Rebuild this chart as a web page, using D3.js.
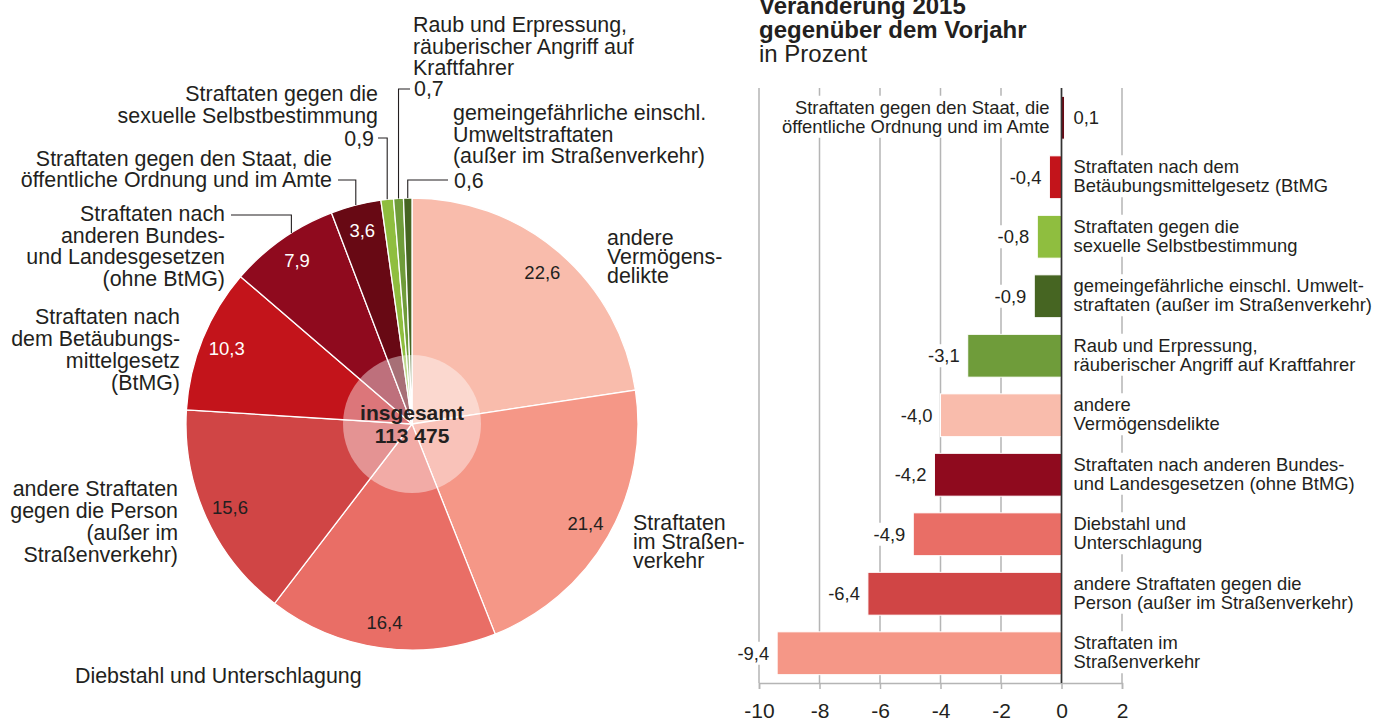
<!DOCTYPE html>
<html>
<head>
<meta charset="utf-8">
<title>Straftaten 2015</title>
<style>
  body, html { margin: 0; padding: 0; background: #fff; }
  svg { display: block; font-family: "Liberation Sans", Arial, Helvetica, sans-serif; }
  text { fill: #231f20; }
</style>
</head>
<body>
<svg id="svg" width="1374" height="720"></svg>
<script src="https://d3js.org/d3.v7.min.js"></script>
<script>
// Anteile in Prozent, im Uhrzeigersinn ab 12 Uhr
const pieKeys = ['verm', 'verkehr', 'dieb', 'person', 'btmg', 'bundes', 'staat', 'sexuell', 'raub', 'gemein']
const pieValues = [22.6, 21.4, 16.4, 15.6, 10.3, 7.9, 3.6, 0.9, 0.7, 0.6]
const pieLabels = [
  ['andere', 'Vermögens-', 'delikte'],
  ['Straftaten', 'im Straßen-', 'verkehr'],
  ['Diebstahl und Unterschlagung'],
  ['andere Straftaten', 'gegen die Person', '(außer im', 'Straßenverkehr)'],
  ['Straftaten nach', 'dem Betäubungs-', 'mittelgesetz', '(BtMG)'],
  ['Straftaten nach', 'anderen Bundes-', 'und Landesgesetzen', '(ohne BtMG)'],
  ['Straftaten gegen den Staat, die', 'öffentliche Ordnung und im Amte'],
  ['Straftaten gegen die', 'sexuelle Selbstbestimmung'],
  ['Raub und Erpressung,', 'räuberischer Angriff auf', 'Kraftfahrer'],
  ['gemeingefährliche einschl.', 'Umweltstraftaten', '(außer im Straßenverkehr)']
]
const totalLabel = ['insgesamt', '113 475']

// Veränderung 2015 gegenüber dem Vorjahr in Prozent
const barKeys = ['staat', 'btmg', 'sexuell', 'gemein', 'raub', 'verm', 'bundes', 'dieb', 'person', 'verkehr']
const barValues = [0.1, -0.4, -0.8, -0.9, -3.1, -4.0, -4.2, -4.9, -6.4, -9.4]
const barLabels = [
  ['Straftaten gegen den Staat, die', 'öffentliche Ordnung und im Amte'],
  ['Straftaten nach dem', 'Betäubungsmittelgesetz (BtMG'],
  ['Straftaten gegen die', 'sexuelle Selbstbestimmung'],
  ['gemeingefährliche einschl. Umwelt-', 'straftaten (außer im Straßenverkehr)'],
  ['Raub und Erpressung,', 'räuberischer Angriff auf Kraftfahrer'],
  ['andere', 'Vermögensdelikte'],
  ['Straftaten nach anderen Bundes-', 'und Landesgesetzen (ohne BtMG)'],
  ['Diebstahl und', 'Unterschlagung'],
  ['andere Straftaten gegen die', 'Person (außer im Straßenverkehr)'],
  ['Straftaten im', 'Straßenverkehr']
]
const xTicks = [-10, -8, -6, -4, -2, 0, 2]

const colors = d3.scaleOrdinal()
  .domain(pieKeys)
  .range(['#f9bcac', '#f59787', '#e96e66', '#d04545', '#c3141b', '#8f0a1e', '#680914', '#8fbe3f', '#6f9c3a', '#466522'])

const fmt = v => v.toFixed(1).replace('.', ',')
const svg = d3.select('#svg')

// ---------- Kreis ----------
const cx = 412, cy = 424, r = 226
const pieData = d3.pie().sort(null).value(d => d.value)(pieKeys.map((k, i) => ({ key: k, value: pieValues[i], lines: pieLabels[i] })))
const arc = d3.arc().innerRadius(0).outerRadius(r)
const valueArc = d3.arc().innerRadius(200).outerRadius(200)

const pieG = svg.append('g').attr('transform', `translate(${cx},${cy})`)
pieG.selectAll('path')
  .data(pieData)
  .enter()
  .append('path')
  .attr('d', arc)
  .attr('fill', d => colors(d.data.key))
  .attr('stroke', '#fff')
  .attr('stroke-width', 1.3)

const whiteValues = ['btmg', 'bundes', 'staat']
const outside = ['sexuell', 'raub', 'gemein']
pieG.selectAll('text.val')
  .data(pieData.filter(d => !outside.includes(d.data.key)))
  .enter()
  .append('text')
  .attr('class', 'val')
  .attr('transform', d => `translate(${valueArc.centroid(d)})`)
  .attr('text-anchor', 'middle')
  .attr('dy', '0.36em')
  .style('font-size', '18.5px')
  .style('fill', d => whiteValues.includes(d.data.key) ? '#fff' : '#231f20')
  .text(d => fmt(d.data.value))

pieG.append('circle').attr('r', 69).attr('fill', '#fff').attr('opacity', 0.42)
pieG.selectAll('text.total')
  .data(totalLabel)
  .enter()
  .append('text')
  .attr('text-anchor', 'middle')
  .attr('y', (d, i) => -4 + i * 23)
  .style('font-size', '21px')
  .style('font-weight', 'bold')
  .text(d => d)

// Beschriftung rund um den Kreis
const pieLayout = {
  verm:    { x: 607, y: 245, anchor: 'start', lh: 19 },
  verkehr: { x: 633, y: 530, anchor: 'start', lh: 19 },
  dieb:    { x: 75,  y: 683, anchor: 'start', lh: 22 },
  person:  { x: 178, y: 496, anchor: 'end', lh: 22 },
  btmg:    { x: 180, y: 324, anchor: 'end', lh: 22 },
  bundes:  { x: 225, y: 221, anchor: 'end', lh: 21.5, leader: { x: 231, y: 215, at: 0.6 } },
  staat:   { x: 332, y: 166, anchor: 'end', lh: 21, leader: { x: 338, y: 180, at: 0.5 } },
  sexuell: { x: 378, y: 101, anchor: 'end', lh: 22, val: { x: 374, y: 146, anchor: 'end' }, leader: { x: 378, y: 138, at: 0.5 } },
  raub:    { x: 413, y: 32,  anchor: 'start', lh: 21.5, val: { x: 414, y: 96, anchor: 'start' }, leader: { x: 410, y: 89, at: 0.5 } },
  gemein:  { x: 453, y: 120, anchor: 'start', lh: 21.5, val: { x: 454, y: 188, anchor: 'start' }, leader: { x: 448, y: 180, at: 0.5 } }
}

const labelG = svg.append('g').style('font-size', '21.4px')
pieData.forEach(d => {
  const L = pieLayout[d.data.key]
  const t = labelG.append('text').attr('text-anchor', L.anchor)
  d.data.lines.forEach((line, i) => {
    t.append('tspan').attr('x', L.x).attr('y', L.y + i * L.lh).text(line)
  })
  if (L.val) {
    labelG.append('text').attr('x', L.val.x).attr('y', L.val.y)
      .attr('text-anchor', L.val.anchor).text(fmt(d.data.value))
  }
  if (L.leader) {
    const a = d.startAngle + (d.endAngle - d.startAngle) * L.leader.at
    const ex = cx + r * Math.sin(a)
    const ey = cy - r * Math.cos(a)
    labelG.append('path')
      .attr('d', `M${L.leader.x},${L.leader.y}H${ex}V${ey}`)
      .attr('fill', 'none')
      .attr('stroke', '#231f20')
      .attr('stroke-width', 1.1)
  }
})

// ---------- Balken ----------
const barData = barKeys.map((k, i) => ({ key: k, value: barValues[i], lines: barLabels[i] }))
const yTop = 88, yBottom = 683
const xscale = d3.scaleLinear().domain([-10, 2]).range([759, 1122])
const yscale = d3.scaleBand().domain(barKeys).range([yTop, yBottom]).paddingInner(0.28).paddingOuter(0.14)

const title = svg.append('g').style('font-size', '24px')
title.append('text').attr('x', 759).attr('y', 14).style('font-weight', 'bold').text('Veränderung 2015')
title.append('text').attr('x', 759).attr('y', 38).style('font-weight', 'bold').text('gegenüber dem Vorjahr')
title.append('text').attr('x', 759).attr('y', 62).text('in Prozent')

svg.append('g')
  .selectAll('line')
  .data(xTicks)
  .enter()
  .append('line')
  .attr('x1', d => xscale(d)).attr('x2', d => xscale(d))
  .attr('y1', yTop).attr('y2', yBottom)
  .attr('stroke', '#b5b5b5')
  .attr('stroke-width', 1.5)

const bottomAxis = d3.axisBottom(xscale).tickValues(xTicks).tickSize(6).tickPadding(14).tickFormat(d => String(d))
const axisG = svg.append('g').attr('transform', `translate(0, ${yBottom})`).call(bottomAxis)
axisG.select('.domain').attr('stroke', '#b5b5b5').attr('stroke-width', 1.5)
axisG.selectAll('.tick line').attr('stroke', '#b5b5b5').attr('stroke-width', 1.5)
axisG.selectAll('.tick text').style('font-size', '21px').style('fill', '#231f20')
  .style('font-family', '"Liberation Sans", Arial, Helvetica, sans-serif')

// Beschriftungen mit weißem Hintergrund (unterbrechen die Gitterlinien)
const textG = svg.append('g').style('font-size', '18.4px')
barData.forEach(d => {
  const yc = yscale(d.key) + yscale.bandwidth() / 2
  const neg = d.value < 0
  const cat = textG.append('text').attr('text-anchor', neg ? 'start' : 'end')
  d.lines.forEach((line, i) => {
    cat.append('tspan').attr('x', xscale(0) + (neg ? 12 : -12)).attr('y', yc - 4 + i * 19).text(line)
  })
  textG.append('text')
    .attr('x', xscale(d.value) + (neg ? -8 : 9))
    .attr('y', yc + 6.5)
    .attr('text-anchor', neg ? 'end' : 'start')
    .text(fmt(d.value))
})
textG.selectAll('text').each(function () {
  const b = this.getBBox()
  d3.select(this.parentNode).insert('rect', () => this)
    .attr('x', b.x - 3).attr('y', b.y - 1)
    .attr('width', b.width + 6).attr('height', b.height + 2)
    .attr('fill', '#fff')
})

svg.append('g')
  .selectAll('rect')
  .data(barData)
  .enter()
  .append('rect')
  .attr('x', d => xscale(Math.min(0, d.value)))
  .attr('y', d => yscale(d.key))
  .attr('width', d => Math.abs(xscale(d.value) - xscale(0)))
  .attr('height', yscale.bandwidth())
  .attr('fill', d => colors(d.key))
  .attr('stroke', '#fff')
  .attr('stroke-width', 1)

svg.append('line')
  .attr('x1', xscale(0)).attr('x2', xscale(0))
  .attr('y1', yTop).attr('y2', yBottom)
  .attr('stroke', '#333')
  .attr('stroke-width', 1.6)
</script>
</body>
</html>
